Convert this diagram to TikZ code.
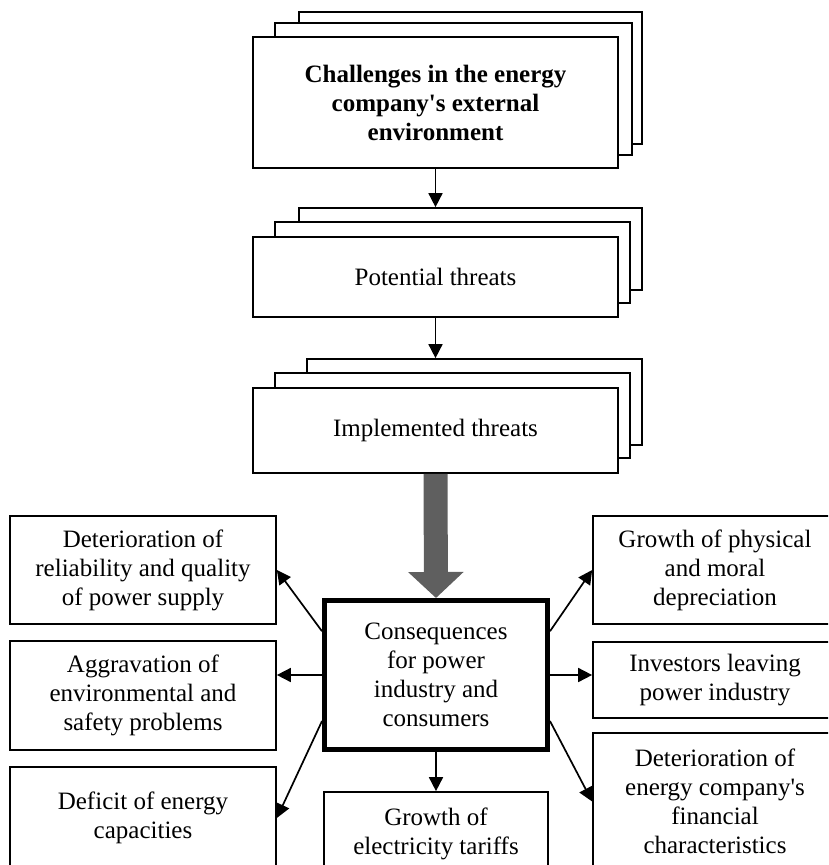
\documentclass[tikz,border=0pt]{standalone}
\usepackage{fontspec}
\setmainfont{Liberation Serif}
\usepackage{tikz}
\usetikzlibrary{arrows.meta, positioning}
\definecolor{arrowGray}{RGB}{95,95,95}

\begin{document}
\begin{tikzpicture}[
  x=1pt, y=-1pt,
  box/.style={rectangle, draw, line width=1.7pt, fill=white, inner sep=0pt,
              align=center, font=\fontsize{25}{29}\selectfont},
  main/.style={box, line width=5pt},
  arrow/.style={-{Triangle[length=14pt, width=14pt]}, line width=1.7pt}
]
\path[use as bounding box, clip] (0,0) rectangle (828,865);

% Challenges (stack of three sheets)
\node[box, minimum width=343pt, minimum height=132pt] (challBack) at (470.5,78) {};
\node[box, minimum width=357pt, minimum height=132pt] (challMid) at (453.5,89) {};
\node[box, minimum width=365pt, minimum height=131pt] (chall) at (435.5,102.5)
  {\bfseries Challenges in the energy\\\bfseries company\textquotesingle s external\\\bfseries environment};

% Potential threats
\node[box, minimum width=343pt, minimum height=82pt] (potBack) at (470.5,249) {};
\node[box, minimum width=355pt, minimum height=81pt] (potMid) at (452.5,262.5) {};
\node[box, minimum width=365pt, minimum height=80pt] (pot) at (435.5,277) {Potential threats};

% Implemented threats
\node[box, minimum width=335pt, minimum height=86pt] (implBack) at (474.5,402) {};
\node[box, minimum width=355pt, minimum height=85pt] (implMid) at (452.5,415.5) {};
\node[box, minimum width=365pt, minimum height=85pt] (impl) at (435.5,430.5) {Implemented threats};

\draw[arrow] (chall.south) -- (chall.south |- potBack.north);
\draw[arrow] (pot.south) -- (pot.south |- implBack.north);

% Consequences
\node[main, minimum width=223pt, minimum height=149pt] (cons) at (436,675)
  {Consequences\\for power\\industry and\\consumers};
\draw[-{Triangle[length=26pt, width=54pt]}, line width=24pt, arrowGray]
  (impl.south) -- (cons.north);

% Left column
\node[box, minimum width=266pt, minimum height=108pt] (reliab) at (143,570)
  {Deterioration of\\reliability and quality\\of power supply};
\node[box, minimum width=266pt, minimum height=109pt] (environ) at (143,695.5)
  {Aggravation of\\environmental and\\safety problems};
\node[box, minimum width=266pt, minimum height=102pt] (deficit) at (143,818)
  {Deficit of energy\\capacities};

% Right column
\node[box, minimum width=244pt, minimum height=108pt] (deprec) at (715,570)
  {Growth of physical\\and moral\\depreciation};
\node[box, minimum width=244pt, minimum height=76pt] (investors) at (715,680)
  {Investors leaving\\power industry};
\node[box, minimum width=244pt, minimum height=137pt] (finance) at (715,801.5)
  {Deterioration of\\energy company\textquotesingle s\\financial\\characteristics};

% Bottom
\node[box, minimum width=224pt, minimum height=84pt] (tariffs) at (436,834)
  {Growth of\\electricity tariffs};

\draw[arrow] (cons.159) -- (reliab.east);
\draw[arrow] (cons.west) -- (cons.west -| environ.east);
\draw[arrow] (cons.202) -- (deficit.east);
\draw[arrow] (cons.21) -- (deprec.west);
\draw[arrow] (cons.east) -- (cons.east -| investors.west);
\draw[arrow] (cons.338) -- (finance.west);
\draw[arrow] (cons.south) -- (tariffs.north);

\end{tikzpicture}
\end{document}
